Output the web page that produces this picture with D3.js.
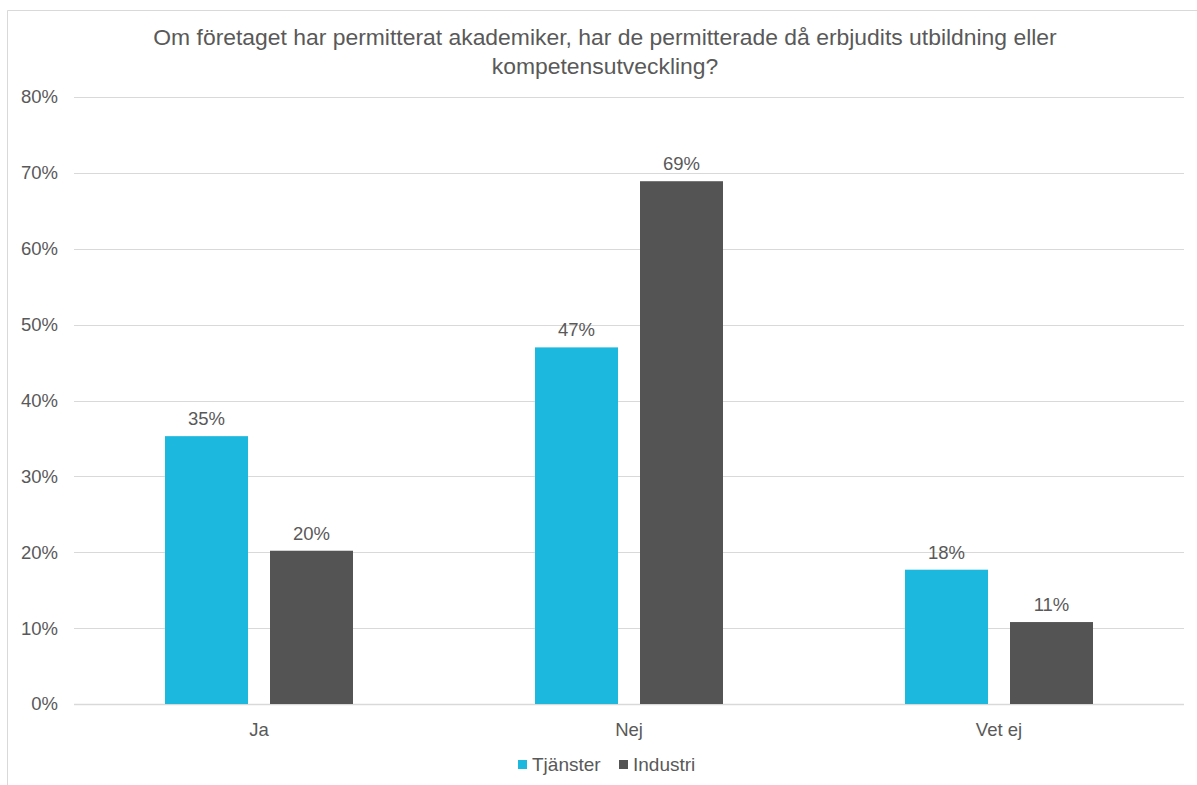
<!DOCTYPE html>
<html>
<head>
<meta charset="utf-8">
<script src="https://cdn.jsdelivr.net/npm/d3@7"></script>
<style>
  body { margin: 0; background: #fff; }
  text { font-family: "Liberation Sans", Arial, sans-serif; fill: #595959; }
</style>
</head>
<body>
<div id="chart"></div>
<script>
// Data
var categories = ["Ja", "Nej", "Vet ej"];
var series = ["Tjänster", "Industri"];
var tjanster = [0.353, 0.470, 0.177];
var industri = [0.202, 0.689, 0.108];
var yTicks = [0, 0.1, 0.2, 0.3, 0.4, 0.5, 0.6, 0.7, 0.8];
var titleLines = ["Om företaget har permitterat akademiker, har de permitterade då erbjudits utbildning eller",
                  "kompetensutveckling?"];
var colors = { "Tjänster": "#1db8de", "Industri": "#545454" };

var W = 1197, H = 785;
var margin = { top: 97, right: 13, bottom: 81, left: 74 };
var width = W - margin.left - margin.right,
    height = H - margin.top - margin.bottom;

var svg = d3.select("#chart").append("svg")
    .attr("width", W).attr("height", H);

// rand om diagrammet
svg.append("path")
    .attr("d", "M7.5," + H + "V10.5H" + W)
    .attr("fill", "none").attr("stroke", "#d9d9d9");

// titel
svg.append("text")
    .attr("x", 605).attr("y", 45)
    .attr("text-anchor", "middle")
    .style("font-size", "22.9px")
    .selectAll("tspan").data(titleLines).enter().append("tspan")
    .attr("x", 605).attr("dy", function(d, i) { return i ? 29 : 0; })
    .text(function(d) { return d; });

var g = svg.append("g")
    .attr("transform", "translate(" + margin.left + "," + margin.top + ")");

var y = d3.scaleLinear().domain([0, 0.8]).range([height, 0]);
var x0 = d3.scaleBand().domain(categories).range([0, width]);
var x1 = d3.scaleBand().domain(series).range([91, x0.bandwidth() - 91]).paddingInner(0.2095);

// stödlinjer
g.selectAll(".grid").data(yTicks).enter().append("line")
    .attr("x1", 0).attr("x2", width)
    .attr("y1", function(d) { return Math.round(y(d)) + 0.5; })
    .attr("y2", function(d) { return Math.round(y(d)) + 0.5; })
    .attr("stroke", "#d9d9d9")
    .attr("stroke-width", function(d) { return d === 0 ? 1.5 : 1; });

// y-axel
var yAxis = g.append("g")
    .call(d3.axisLeft(y).tickValues(yTicks).tickFormat(d3.format(".0%")).tickSize(0).tickPadding(16));
yAxis.select(".domain").remove();
yAxis.selectAll("text").style("font-size", "18.5px").attr("fill", "#595959");

// x-axel
var xAxis = g.append("g")
    .attr("transform", "translate(0," + height + ")")
    .call(d3.axisBottom(x0).tickSize(0).tickPadding(19));
xAxis.select(".domain").remove();
xAxis.selectAll("text").style("font-size", "18.5px").attr("fill", "#595959");

// staplar
var rows = categories.map(function(c, i) {
    return { cat: c, vals: [{ s: "Tjänster", v: tjanster[i] }, { s: "Industri", v: industri[i] }] };
});

var groups = g.selectAll(".grp").data(rows).enter().append("g")
    .attr("transform", function(d) { return "translate(" + x0(d.cat) + ",0)"; });

groups.selectAll("rect").data(function(d) { return d.vals; }).enter().append("rect")
    .attr("x", function(d) { return x1(d.s); })
    .attr("y", function(d) { return y(d.v); })
    .attr("width", x1.bandwidth())
    .attr("height", function(d) { return height - y(d.v); })
    .attr("fill", function(d) { return colors[d.s]; });

groups.selectAll(".lbl").data(function(d) { return d.vals; }).enter().append("text")
    .attr("x", function(d) { return x1(d.s) + x1.bandwidth() / 2; })
    .attr("y", function(d) { return y(d.v) - 11; })
    .attr("text-anchor", "middle")
    .style("font-size", "18.5px")
    .text(function(d) { return d3.format(".0%")(d.v); });

// förklaring
var legendX = [518, 619];
var leg = svg.selectAll(".leg").data(series).enter().append("g")
    .attr("transform", function(d, i) { return "translate(" + legendX[i] + ",759)"; });
leg.append("rect").attr("width", 9).attr("height", 9).attr("y", 1)
    .attr("fill", function(d) { return colors[d]; });
leg.append("text").attr("x", 14).attr("y", 12)
    .style("font-size", "19px")
    .text(function(d) { return d; });
</script>
</body>
</html>
